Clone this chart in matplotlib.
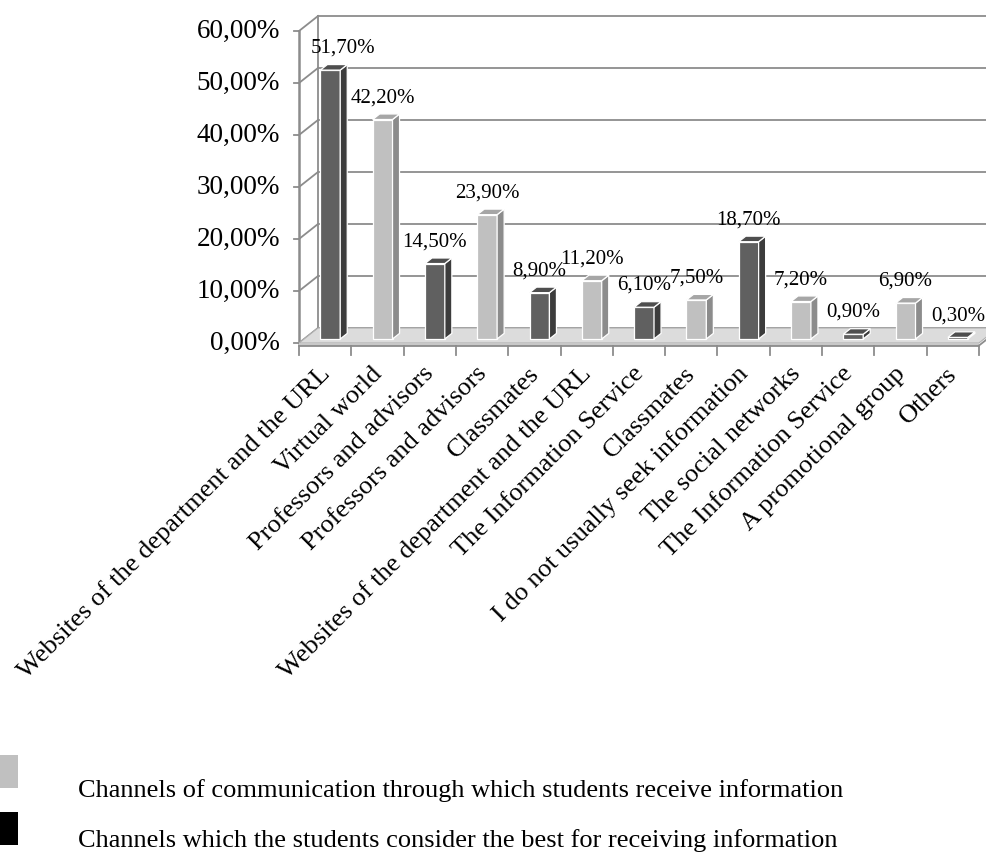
import matplotlib
matplotlib.use("Agg")
import matplotlib.pyplot as plt
from matplotlib.patches import Polygon, Rectangle

plt.rcParams['font.family'] = ['Liberation Serif', 'DejaVu Serif']

categories = [
    "Websites of the department and the URL",
    "Virtual world",
    "Professors and advisors",
    "Professors and advisors",
    "Classmates",
    "Websites of the department and the URL",
    "The Information Service",
    "Classmates",
    "I do not usually seek information",
    "The social networks",
    "The Information Service",
    "A promotional group",
    "Others",
]
values = [51.7, 42.2, 14.5, 23.9, 8.9, 11.2, 6.1, 7.5, 18.7, 7.2, 0.9, 6.9, 0.3]
series = ["best", "receive", "best", "receive", "best", "receive", "best",
          "receive", "best", "receive", "best", "receive", "best"]
yticks = [0, 10, 20, 30, 40, 50, 60]
legend_labels = [
    "Channels of communication through which students receive information",
    "Channels which the students consider the best for receiving information",
]

# face colours (front, side, top) for each series
faces = {
    "best": ("#606060", "#3c3c3c", "#4e4e4e"),
    "receive": ("#c0c0c0", "#8c8c8c", "#a6a6a6"),
}

W, H = 986, 852
fig = plt.figure(figsize=(W / 100, H / 100), dpi=100)
ax = fig.add_axes([0, 0, 1, 1])
ax.set_axis_off()

# axes scaling: one category per unit on x, percent on y
px_cat, px_pct = 52.3, 5.2
x0_px, y0_px = 299, 343
ax.set_xlim(-x0_px / px_cat, (W - x0_px) / px_cat)
ax.set_ylim((y0_px - H) / px_pct, y0_px / px_pct)

# oblique depth vector of the pseudo-3D box
dxc, dyp = 19 / px_cat, 15 / px_pct
n = len(categories)
ymax = yticks[-1]
grid_c = "#8c8c8c"
lw = 1.3

# back wall gridlines and left wall diagonals
for t in yticks:
    ax.plot([dxc, n + dxc], [t + dyp, t + dyp], color=grid_c, lw=lw, zorder=1)
    ax.plot([0, dxc], [t, t + dyp], color=grid_c, lw=lw, zorder=1)
    ax.plot([-0.1, 0], [t, t], color=grid_c, lw=lw, zorder=1)
    ax.text(-0.36, t, f"{t:.2f}".replace(".", ",") + "%", ha="right",
            va="center", fontsize=19.5)
ax.plot([dxc, dxc], [dyp, ymax + dyp], color=grid_c, lw=lw, zorder=1)
ax.plot([0, 0], [0, ymax], color=grid_c, lw=lw + 0.5, zorder=1)

# floor
floor = Polygon([(0, 0), (n, 0), (n + dxc, dyp), (dxc, dyp)], closed=True,
                facecolor="#dcdcdc", edgecolor="#b0b0b0", lw=0.8, zorder=2)
ax.add_patch(floor)
ledge = Polygon([(0, 0), (n, 0), (n, -0.5), (0, -0.5)], closed=True,
                facecolor="#c8c8c8", edgecolor="none", zorder=2)
ax.add_patch(ledge)
ax.plot([0, n], [-0.5, -0.5], color=grid_c, lw=lw, zorder=3)
ax.plot([n, n + dxc], [-0.5, dyp - 0.5], color=grid_c, lw=lw, zorder=3)
for i in range(n + 1):
    ax.plot([i, i], [-0.5, -2.3], color=grid_c, lw=lw, zorder=3)

# bars
bw = 0.38
t0, t1 = 0.27, 0.64
ddx, ddy = (t1 - t0) * dxc, (t1 - t0) * dyp
for i, (v, s) in enumerate(zip(values, series)):
    front, side, top = faces[s]
    c = i + 0.5 + t0 * dxc
    xl, xr = c - bw / 2, c + bw / 2
    yb, yt = t0 * dyp, t0 * dyp + v
    ax.add_patch(Polygon([(xl, yb), (xr, yb), (xr, yt), (xl, yt)], closed=True,
                         facecolor=front, edgecolor="white", lw=0.9, zorder=5))
    ax.add_patch(Polygon([(xr, yb), (xr + ddx, yb + ddy), (xr + ddx, yt + ddy),
                          (xr, yt)], closed=True, facecolor=side,
                         edgecolor="white", lw=0.9, zorder=5))
    ax.add_patch(Polygon([(xl, yt), (xr, yt), (xr + ddx, yt + ddy),
                          (xl + ddx, yt + ddy)], closed=True, facecolor=top,
                         edgecolor="white", lw=0.9, zorder=5))
    # keep the first label clear of the value axis
    lx = max(c, 0.85)
    ax.text(lx, yt + 4.2, f"{v:.2f}".replace(".", ",") + "%",
            ha="center", va="center", fontsize=15, zorder=6)

# category labels
for i, lab in enumerate(categories):
    ax.text(i + 0.52, -5.3, lab, rotation=45, rotation_mode="anchor",
            ha="right", va="center", fontsize=19)

# legend
sq = [("#c0c0c0", 755, 791), ("#000000", 812, 841)]
for (col, top_px, text_px), lab in zip(sq, legend_labels):
    fig.patches.append(Rectangle((0, 1 - (top_px + 33) / H), 18 / W, 33 / H,
                                 transform=fig.transFigure, facecolor=col,
                                 edgecolor="none"))
    fig.text(78 / W, 1 - text_px / H, lab, ha="left", va="center",
             fontsize=19)

fig.savefig("out.png", dpi=100)
